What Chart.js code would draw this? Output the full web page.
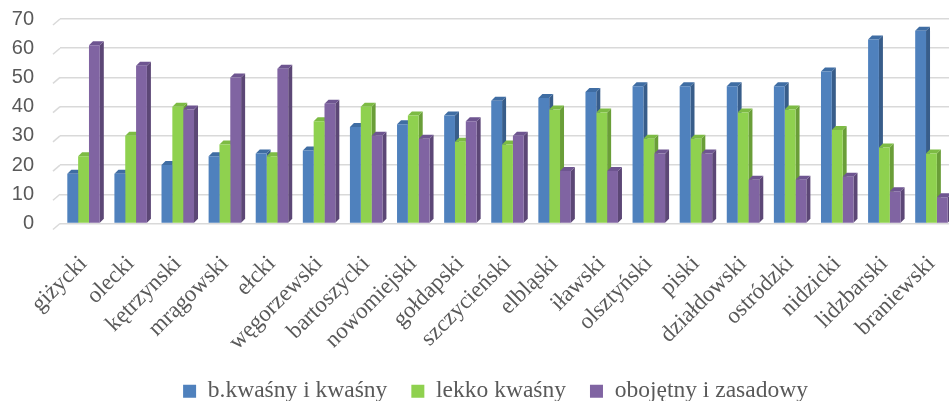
<!DOCTYPE html>
<html>
<head>
<meta charset="utf-8">
<script src="https://cdn.jsdelivr.net/npm/chart.js@4"></script>
<style>
  html, body { margin: 0; padding: 0; background: #fff; overflow: hidden; }
  #wrap { width: 949px; height: 401px; overflow: hidden; }
</style>
</head>
<body>
<!-- canvas a bit wider than the window: the original picture is cropped on the right -->
<div id="wrap"><canvas id="soilChart" width="955" height="401"></canvas></div>
<script>
const powiaty = ['giżycki', 'olecki', 'kętrzynski', 'mrągowski', 'ełcki', 'węgorzewski', 'bartoszycki',
  'nowomiejski', 'gołdapski', 'szczycieński', 'elbląski', 'iławski', 'olsztyński', 'piski',
  'działdowski', 'ostródzki', 'nidzicki', 'lidzbarski', 'braniewski'];
const kwasny = [17, 17, 20, 23, 24, 25, 33, 34, 37, 42, 43, 45, 47, 47, 47, 47, 52, 63, 66];
const lekkoKwasny = [23, 30, 40, 27, 23, 35, 40, 37, 28, 27, 39, 38, 29, 29, 38, 39, 32, 26, 24];
const obojetny = [61, 54, 39, 50, 53, 41, 30, 29, 35, 30, 18, 18, 24, 24, 15, 15, 16, 11, 9];
const yTicks = [0, 10, 20, 30, 40, 50, 60, 70];

const seriesNames = ['b.kwaśny i kwaśny', 'lekko kwaśny', 'obojętny i zasadowy'];
const fronts = ['#4f81bd', '#8fd14f', '#8064a2'];
const sides = ['#385d8a', '#6a9e38', '#5c4776'];
const tops = ['#3f6da3', '#7dbb44', '#6e5590'];

// fake 3d: side + top faces drawn behind the bar fronts
const bar3d = {
  id: 'bar3d',
  afterLayout(chart) {
    // legend sits a bit right of centre in the original
    chart.legend.left += 18;
    chart.legend.right += 18;
  },
  beforeDatasetsDraw(chart) {
    const ctx = chart.ctx;
    const dx = 4, dy = 4;
    chart.data.datasets.forEach((ds, i) => {
      chart.getDatasetMeta(i).data.forEach(bar => {
        const l = bar.x - bar.width / 2, r = bar.x + bar.width / 2;
        ctx.fillStyle = sides[i];
        ctx.beginPath();
        ctx.moveTo(r, bar.y);
        ctx.lineTo(r + dx, bar.y - dy);
        ctx.lineTo(r + dx, bar.base - dy);
        ctx.lineTo(r, bar.base);
        ctx.closePath();
        ctx.fill();
        ctx.fillStyle = tops[i];
        ctx.beginPath();
        ctx.moveTo(l, bar.y);
        ctx.lineTo(l + dx, bar.y - dy);
        ctx.lineTo(r + dx, bar.y - dy);
        ctx.lineTo(r, bar.y);
        ctx.closePath();
        ctx.fill();
      });
    });
  },
  beforeDraw(chart) {
    // little slanted floor edges at the left of each gridline
    const ctx = chart.ctx, y = chart.scales.y, left = chart.chartArea.left;
    ctx.save();
    ctx.strokeStyle = '#d9d9d9';
    ctx.lineWidth = 1.5;
    y.ticks.forEach(t => {
      const py = y.getPixelForValue(t.value);
      ctx.beginPath();
      ctx.moveTo(left - 7, py + 6);
      ctx.lineTo(left, py);
      ctx.stroke();
    });
    ctx.restore();
  }
};

new Chart(document.getElementById('soilChart'), {
  type: 'bar',
  data: {
    labels: powiaty,
    datasets: [kwasny, lekkoKwasny, obojetny].map((d, i) => ({
      label: seriesNames[i],
      data: d,
      backgroundColor: fronts[i],
      borderWidth: 0,
      categoryPercentage: 0.69,
      barPercentage: 1.0
    }))
  },
  options: {
    responsive: false,
    animation: false,
    layout: { padding: { top: 19, right: 0, left: 0, bottom: -12 } },
    scales: {
      x: {
        grid: { display: false, drawTicks: false },
        border: { display: false },
        afterFit: axis => {
          axis.height = 132;
          axis.paddingLeft = 0;
          axis.paddingRight = 0;
        },
        ticks: {
          color: '#595959',
          font: { family: 'Liberation Serif', size: 23 },
          minRotation: 45,
          maxRotation: 45,
          padding: 27
        }
      },
      y: {
        min: 0,
        max: 70,
        afterBuildTicks: axis => { axis.ticks = yTicks.map(v => ({ value: v })); },
        afterFit: axis => {
          axis.width = 60;
          axis.paddingTop = 0;
          axis.paddingBottom = 0;
        },
        grid: { color: '#d9d9d9', lineWidth: 1.5, drawTicks: false },
        border: { display: false },
        ticks: {
          autoSkip: false,
          color: '#595959',
          font: { family: 'Liberation Sans', size: 20 },
          padding: 26
        }
      }
    },
    plugins: {
      legend: {
        position: 'bottom',
        labels: {
          color: '#595959',
          font: { family: 'Liberation Serif', size: 23.5 },
          boxWidth: 13,
          boxHeight: 13,
          padding: 24
        }
      },
      tooltip: { enabled: false }
    }
  },
  plugins: [bar3d]
});
</script>
</body>
</html>
